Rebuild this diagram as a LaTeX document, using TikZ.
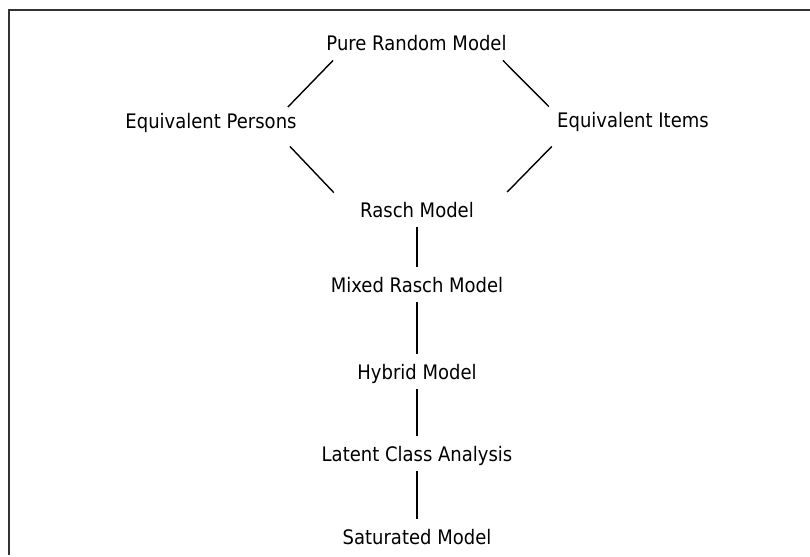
\documentclass[tikz,border=0pt]{standalone}
\usepackage{fontspec}
\setmainfont{DejaVu Sans}[FakeStretch=0.9]
\usepackage{tikz}

\tikzset{
  model/.style={anchor=base, inner xsep=0pt, inner ysep=5pt,
    text height=7.3pt, text depth=0pt, font=\fontsize{10}{12}\selectfont},
  link/.style={line width=0.7pt},
}

\begin{document}
\begin{tikzpicture}[x=0.5pt, y=-0.5pt]
\useasboundingbox (0,0) rectangle (810,557);
\draw[line width=0.9pt, black!80] (810,10) -- (9,10) -- (9,555);

\node[model] (pure)      at (416.5,50) {Pure Random Model};
\node[model] (persons)   at (211,128)  {Equivalent Persons};
\node[model] (items)     at (633,127)  {Equivalent Items};
\node[model] (rasch)     at (417,217)  {Rasch Model};
\node[model] (mixed)     at (417,292)  {Mixed Rasch Model};
\node[model] (hybrid)    at (417,379)  {Hybrid Model};
\node[model] (latent)    at (417,461)  {Latent Class Analysis};
\node[model] (saturated) at (417,544)  {Saturated Model};

% the two restrictions of the Rasch model
\draw[link] ([xshift=3.5pt]pure.south west) -- ([xshift=-4.5pt,yshift=-2pt]persons.north east);
\draw[link] ([xshift=-2pt]pure.south east) -- ([xshift=-4pt,yshift=-2.3pt]items.north west);
\draw[link] ([xshift=-3.5pt,yshift=-4pt]persons.south east) -- ([xshift=-13pt,yshift=-0.3pt]rasch.north west);
\draw[link] ([xshift=-2.5pt,yshift=-4.5pt]items.south west) -- ([xshift=16.5pt]rasch.north east);

\foreach \a/\b in {rasch/mixed, mixed/hybrid, hybrid/latent, latent/saturated}
  \draw[link] (\a) -- (\b);

\end{tikzpicture}
\end{document}
